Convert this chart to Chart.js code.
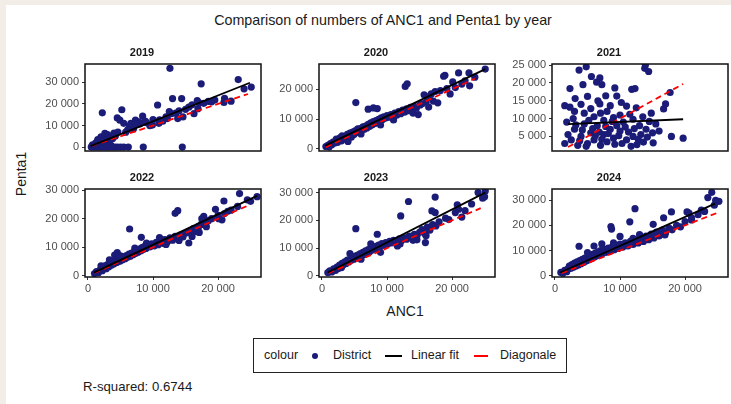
<!DOCTYPE html>
<html lang="en">
<head>
<meta charset="UTF-8">
<title>Comparison of numbers of ANC1 and Penta1 by year</title>
<style>
    body {
        margin: 0;
        width: 731px;
        height: 404px;
        background: #f3ede8;
        font-family: "Liberation Sans", Arial, sans-serif;
        position: relative;
        overflow: hidden;
    }
    .sheet { position: absolute; left: 6px; top: 5px; right: 0; bottom: 0; background: #fff; }
    .panel { position: absolute; }
    .txt { position: absolute; white-space: nowrap; color: #1a1a1a; }
    #main-title { left: 383px; top: 12px; font-size: 14.3px; transform: translateX(-50%); }
    #y-title { left: 21px; top: 174px; font-size: 14px; transform: translate(-50%, -50%) rotate(-90deg); }
    #x-title { left: 405px; top: 303px; font-size: 14px; transform: translateX(-50%); }
    #rsq { left: 83px; top: 379px; font-size: 13.2px; }
    .legend { position: absolute; left: 253px; top: 338px; width: 312px; height: 33px; border: 1px solid #222; background: #fff; }
    .legend span { position: absolute; top: 9px; font-size: 12.5px; color: #1a1a1a; }
    .legend i { position: absolute; display: block; }
</style>
<script src="https://cdn.jsdelivr.net/npm/chart.js"></script>
</head>
<body>
<div class="sheet"></div>
<div class="txt" id="main-title">Comparison of numbers of ANC1 and Penta1 by year</div>
<div class="txt" id="y-title">Penta1</div>
<div class="txt" id="x-title">ANC1</div>
<div class="legend">
    <span style="left:10px">colour</span>
    <i style="left:58px; top:14px; width:6px; height:6px; border-radius:50%; background:#1b1b78"></i>
    <span style="left:79px">District</span>
    <i style="left:131px; top:16px; width:17px; height:2px; background:#000"></i>
    <span style="left:157px">Linear fit</span>
    <i style="left:220px; top:16px; width:14px; height:2px; background:#ff0000"></i>
    <span style="left:246px">Diagonale</span>
</div>
<div class="txt" id="rsq">R-squared: 0.6744</div>

<script>
// ---- data (ANC1 = x, Penta1 = y) ----
const years = ['2019', '2020', '2021', '2022', '2023', '2024'];
const xTicks = [0, 10000, 20000];

const district2019 = [
    [12600,36500],[17400,29300],[23100,31300],[24000,27000],[25100,27800],[13000,22500],[14400,22500],
    [10700,19500],[16800,21500],[17100,20500],[18500,21200],[20900,20700],[2200,15900],[5200,17300],
    [4500,13500],[4900,12500],[5500,11000],[8400,14400],[7300,12500],[7800,11700],[12500,16500],
    [12800,15500],[16300,15500],[12200,13200],[9900,10200],[10900,11000],[6400,9900],[6800,9000],
    [6100,8000],[3000,5800],[3500,5000],[2800,4200],[4000,6500],[4600,7000],[5800,6900],[7000,8500],
    [8000,10800],[9000,11300],[9500,10000],[11000,12600],[11500,12000],[12000,14000],[13500,15700],
    [14000,16800],[15000,17500],[15500,18500],[16000,19600],[16900,17800],[17800,20300],[19000,21000],
    [19500,21800],[21000,22600],[22000,21300],[8800,12000],[7500,10500],[6600,11000],[10000,12800],
    [14600,14000],[13800,13200],[1200,2000],[1500,3500],[2000,4800],[2500,3000],[1800,1200],[3200,2500],
    [2600,6400],[1000,500],[3800,4000],[4200,5200],[500,0],[900,0],[1300,0],[1700,0],[2100,0],[2500,0],
    [2900,0],[3300,0],[3700,0],[4100,0],[4500,0],[5000,0],[5500,0],[6200,0],[8500,0],[14500,0],
    [1100,800],[2300,1000],[3500,900],[700,1000],[600,300]
];
const district2020 = [
    [600,800],[900,1200],[1100,600],[1300,1800],[1500,1400],[1700,2300],[1900,1900],[2100,2600],[2200,3300],
    [2400,2200],[2600,3000],[2800,3800],[3000,2700],[3100,4400],[3300,3500],[3500,4100],[3700,3200],
    [3900,4900],[4100,4300],[4300,5300],[4500,3900],[4700,5600],[4900,4800],[5100,6000],[5200,15500],
    [5300,5400],[5500,6700],[5700,5900],[5900,6800],[6100,6300],[6300,7400],[6500,6600],[6700,7600],
    [6900,7000],[7100,13300],[7100,8200],[7300,7500],[7500,8700],[7700,8000],[7900,13700],[7900,9100],
    [8100,8500],[8300,9500],[8500,13500],[8500,9000],[8700,9900],[8900,9300],[9100,10400],[9300,9800],
    [9500,10700],[9800,10300],[10000,11100],[10300,10600],[10600,11500],[10900,11000],[11200,12000],
    [11500,11300],[11800,12500],[12100,11800],[12400,13000],[12700,12300],[12800,20900],[13100,21800],
    [13000,13400],[13300,12800],[13600,13900],[13900,13300],[14200,14200],[14500,13600],[14800,11500],
    [15100,14700],[15400,15100],[15700,18100],[16000,15600],[16300,17000],[16500,17600],[16800,18400],
    [17100,16000],[16400,14000],[17400,19200],[17800,15400],[18200,19500],[18700,24300],[18900,24600],
    [19200,20200],[19700,18400],[20100,22400],[20500,20500],[21000,25400],[21500,21700],[22000,22800],
    [22600,25400],[22700,21100],[23500,24000],[25100,26700],[4000,2500],[6000,5000],[9000,8000],
    [11000,9700],[14000,12000]
];
const district2021 = [
    [3700,23600],[6400,20200],[6900,21400],[2300,18400],[3100,15600],[1500,13600],[2300,13200],[6600,15000],
    [6900,14100],[9200,18600],[7800,16400],[8500,13600],[11800,18200],[12300,18400],[13800,24100],
    [14400,23200],[17700,17300],[17000,14100],[16700,12700],[17900,5000],[19700,4500],[12600,2700],
    [15100,3200],[4300,19500],[5600,21800],[5000,16200],[3000,12000],[4000,14000],[4500,11500],[5500,12800],
    [6000,10500],[7000,11500],[7500,9500],[8000,12000],[9000,10300],[9500,8000],[10000,11000],[10500,9000],
    [11000,13500],[11500,11200],[12000,9800],[12500,13000],[13000,8000],[13500,10500],[14000,7000],
    [14500,9200],[15000,6000],[15500,8500],[16000,6500],[13200,5500],[12000,5000],[11000,4000],[10000,6500],
    [9000,4500],[8500,7000],[8000,3500],[7500,5500],[7000,2500],[6500,8000],[6000,4000],[5500,6000],
    [5000,3000],[4500,8500],[4000,5000],[3500,2500],[3000,7000],[2500,4000],[2000,5500],[1500,3000],
    [1800,9000],[2800,10000],[3200,8200],[3800,3800],[4200,6800],[4800,2200],[5200,9500],[5800,7200],
    [6200,5200],[6800,6200],[7200,4200],[7800,7800],[8200,5800],[8800,9200],[9200,2800],[9800,5200],
    [10300,3000],[10800,7600],[11300,6200],[11700,2200],[12200,7200],[12800,4200],[13600,3400],[14200,4800],
    [14800,11500],[10200,14500],[9500,16300],[7200,19500],[4800,24500],[13900,25000]
];
const district2022 = [
    [23300,28800],[26000,27700],[24500,26600],[20900,26200],[19600,23300],[13400,21900],[13800,22800],
    [6400,16400],[8200,13500],[15500,11500],[20600,19600],[17800,20800],[17500,20000],[16900,16000],
    [17100,15200],[4500,8100],[1000,800],[1300,1500],[1600,1100],[1900,2200],[2200,1800],[2400,2900],
    [2600,3500],[2800,2500],[3000,3900],[3200,3200],[3400,4400],[3600,3700],[3800,4900],[4000,4200],
    [4200,5400],[4400,4700],[4700,5800],[4900,5100],[5100,6200],[5300,5600],[5500,6700],[5700,6000],
    [5900,7100],[6100,6500],[6300,7600],[6500,6900],[6700,8000],[6900,7400],[7100,8400],[7300,7800],
    [7500,8900],[7700,8300],[7900,9400],[8100,8700],[8300,9900],[8500,9200],[8700,10300],[8900,9600],
    [9200,10800],[9500,10100],[9800,11200],[10200,10500],[10500,11700],[10800,10900],[11100,12200],
    [11500,11400],[11800,12700],[12200,11900],[12600,13300],[13000,12500],[13400,13800],[13800,13100],
    [14200,14300],[14600,13600],[15000,14900],[15400,15300],[15800,15800],[16200,16500],[16600,15500],
    [17000,17300],[17400,18000],[18000,18700],[18500,19300],[19000,20000],[20000,21200],[21000,21800],
    [22000,23000],[23000,24300],[25000,26100],[2000,3500],[3300,5600],[4100,7300],[5000,7000],[7200,9700],
    [9000,11500],[11000,13400],[12000,11000],[14000,12400],[16000,13800],[18200,17200],[20100,20000],
    [21500,22600]
];
const district2023 = [
    [24000,30000],[25100,30600],[24700,28000],[17400,28400],[13300,26800],[12100,21600],[16900,23400],
    [17400,22800],[20800,25600],[21500,21200],[5200,17000],[8500,15000],[15900,12000],[14600,13000],
    [900,1200],[1200,1800],[1500,1400],[1800,2500],[2100,2000],[2300,3200],[2500,2700],[2700,3900],
    [2900,3400],[3100,4500],[3300,4000],[3500,5100],[3700,4500],[3900,5700],[4100,5000],[4300,8000],
    [4500,5600],[4700,6600],[4900,6000],[5100,7100],[5300,6400],[5500,7500],[5700,6900],[5900,8000],
    [6100,7300],[6300,8500],[6500,7700],[6700,9000],[6900,8200],[7100,9500],[7300,8700],[7500,11500],
    [7700,9300],[7900,10200],[8100,9600],[8300,10600],[8500,10000],[8700,11100],[8900,10500],[9200,11600],
    [9500,11000],[9800,12000],[10100,11500],[10400,12400],[10700,11900],[11000,12800],[11300,12200],
    [11600,10800],[11900,13300],[12200,12700],[12600,13800],[13000,13200],[13400,14300],[13800,13700],
    [14200,15000],[14600,14400],[15000,15700],[15400,16700],[15800,15300],[16200,17600],[16600,16500],
    [17000,18500],[17500,18000],[18000,19500],[19000,20800],[19500,20300],[20500,22800],[21000,24000],
    [22000,23500],[23000,25900],[25000,28500],[3000,3000],[6000,6000],[9000,8500],[12000,11500],
    [14000,12800],[16000,14500]
];
const district2024 = [
    [24100,33100],[24700,29900],[23500,31000],[12300,26600],[8600,19500],[8700,18500],[11500,21400],
    [17900,25300],[16700,23000],[20300,25300],[20600,24800],[21000,22100],[16900,16200],[3700,11700],
    [7200,12600],[15100,20400],[10000,15600],[22500,26000],[900,1300],[1200,1000],[1500,2100],[1800,1600],
    [2000,2700],[2200,3800],[2400,2900],[2600,4400],[2800,3400],[3000,5000],[3200,3800],[3400,5500],
    [3600,4300],[3800,6000],[4000,4800],[4200,6500],[4400,5300],[4600,7000],[4800,5800],[5000,7500],
    [5200,6300],[5400,8000],[5600,6800],[5800,8500],[6000,7300],[6200,9000],[6400,7800],[6600,9500],
    [6800,8300],[7000,10000],[7300,8800],[7600,10500],[7900,9300],[8200,11000],[8500,9800],[8800,11500],
    [9100,10300],[9400,12000],[9700,10800],[10000,12500],[10400,11300],[10800,13000],[11200,11800],
    [11600,13600],[12000,12400],[12400,14200],[12800,13000],[13200,14900],[13600,13600],[14000,15700],
    [14400,14300],[14800,16500],[15200,15000],[15600,17300],[16000,15800],[16500,18100],[17000,17000],
    [17500,19000],[18000,18200],[18700,20000],[19300,19400],[20000,21500],[21000,23000],[22000,24200],
    [23000,25500],[24500,28000],[25200,29500],[12000,14800],[13000,16300],[14600,15400],[9000,13000],
    [6000,11800],[5000,9200]
];

// linear fit and diagonal end points
const fit2019 = [[400,450],[24900,29800]];
const fit2020 = [[500,1100],[25100,26700]];
const fit2021 = [[2000,8450],[19700,9800]];
const fit2022 = [[900,1150],[26000,28000]];
const fit2023 = [[900,1200],[25100,30000]];
const fit2024 = [[800,1300],[24600,28600]];
const diag2019 = [[600,600],[24600,24600]];
const diag2020 = [[600,600],[23500,23500]];
const diag2021 = [[2000,2000],[19700,19700]];
const diag2022 = [[1000,1000],[24700,24700]];
const diag2023 = [[1000,1000],[24400,24400]];
const diag2024 = [[1000,1000],[25100,25100]];

// y tick labels and axis limits per panel
const yTicks2019 = [0, 10000, 20000, 30000];
const yTicks2020 = [0, 10000, 20000];
const yTicks2021 = [5000, 10000, 15000, 20000, 25000];
const yTicks2022 = [0, 10000, 20000, 30000];
const yTicks2023 = [0, 10000, 20000, 30000];
const yTicks2024 = [0, 10000, 20000, 30000];
const yLim2019 = [-1800, 38500];
const yLim2020 = [-700, 28400];
const yLim2021 = [900, 25300];
const yLim2022 = [-400, 30400];
const yLim2023 = [-400, 31300];
const yLim2024 = [-500, 34400];
const xLim = [-460, 26600];

const panels = [
    [district2019, fit2019, diag2019, yLim2019, yTicks2019],
    [district2020, fit2020, diag2020, yLim2020, yTicks2020],
    [district2021, fit2021, diag2021, yLim2021, yTicks2021],
    [district2022, fit2022, diag2022, yLim2022, yTicks2022],
    [district2023, fit2023, diag2023, yLim2023, yTicks2023],
    [district2024, fit2024, diag2024, yLim2024, yTicks2024]
];

// ---- layout ----
const colLeft = [85, 319, 552];
const rowTop = [64, 189];
const PANEL_W = 176, PANEL_H = 88;
const Y_W = 62, T_H = 18, X_H = 20, PAD_R = 4, PAD_B = 3;
const FONT = '"Liberation Sans", Arial, sans-serif';

const toXY = arr => arr.map(p => ({ x: p[0], y: p[1] }));
const fmt = v => String(v).replace(/\B(?=(\d{3})+(?!\d))/g, ' ');

// black frame around each panel
const frame = {
    id: 'frame',
    afterDatasetsDraw(chart) {
        const a = chart.chartArea, c = chart.ctx;
        c.save();
        c.strokeStyle = '#111';
        c.lineWidth = 1.5;
        c.strokeRect(a.left, a.top, a.right - a.left, a.bottom - a.top);
        c.restore();
    }
};

panels.forEach((p, i) => {
    const [pts, fit, diag, yLim, yTicks] = p;
    const col = i % 3, row = Math.floor(i / 3);
    const bottomRow = row === 1;
    const w = Y_W + PANEL_W + PAD_R;
    const h = T_H + PANEL_H + (bottomRow ? X_H : PAD_B);

    const canvas = document.createElement('canvas');
    canvas.className = 'panel';
    canvas.width = w;
    canvas.height = h;
    canvas.style.left = (colLeft[col] - Y_W) + 'px';
    canvas.style.top = (rowTop[row] - T_H) + 'px';
    canvas.style.width = w + 'px';
    canvas.style.height = h + 'px';
    document.body.appendChild(canvas);

    const tickGrid = {
        drawOnChartArea: false,
        drawTicks: true,
        tickLength: 3,
        tickColor: '#333',
        color: '#333'
    };

    new Chart(canvas, {
        type: 'scatter',
        data: {
            datasets: [
                {
                    data: toXY(fit), showLine: true, pointRadius: 0,
                    borderColor: '#000', borderWidth: 1.8
                },
                {
                    data: toXY(diag), showLine: true, pointRadius: 0,
                    borderColor: '#ff0000', borderWidth: 1.8, borderDash: [6, 4]
                },
                {
                    data: toXY(pts), pointRadius: 3.6, pointBorderWidth: 0,
                    backgroundColor: '#1b1b78', borderColor: '#1b1b78'
                }
            ]
        },
        options: {
            responsive: false,
            animation: false,
            events: [],
            layout: { padding: { right: PAD_R, bottom: bottomRow ? 0 : PAD_B } },
            plugins: {
                legend: { display: false },
                tooltip: { enabled: false },
                title: {
                    display: true,
                    text: years[i],
                    color: '#1a1a1a',
                    font: { family: FONT, size: 11, weight: 'bold', lineHeight: '13px' },
                    padding: { top: 0, bottom: 5 }
                }
            },
            scales: {
                x: {
                    type: 'linear',
                    min: xLim[0],
                    max: xLim[1],
                    display: bottomRow,
                    afterBuildTicks: a => { a.ticks = xTicks.map(v => ({ value: v })); },
                    afterFit: s => {
                        s.height = bottomRow ? X_H : 0;
                        s.paddingLeft = 0;
                        s.paddingRight = 0;
                    },
                    grid: tickGrid,
                    border: { display: false },
                    ticks: {
                        color: '#4d4d4d', padding: 2, maxRotation: 0, autoSkip: false,
                        font: { family: FONT, size: 11 }, callback: fmt
                    }
                },
                y: {
                    type: 'linear',
                    min: yLim[0],
                    max: yLim[1],
                    afterBuildTicks: a => { a.ticks = yTicks.map(v => ({ value: v })); },
                    afterFit: s => {
                        s.width = Y_W;
                        s.paddingTop = 0;
                        s.paddingBottom = 0;
                    },
                    grid: tickGrid,
                    border: { display: false },
                    ticks: {
                        color: '#4d4d4d', padding: 3, autoSkip: false,
                        font: { family: FONT, size: 11 }, callback: fmt
                    }
                }
            }
        },
        plugins: [frame]
    });
});
</script>
</body>
</html>
